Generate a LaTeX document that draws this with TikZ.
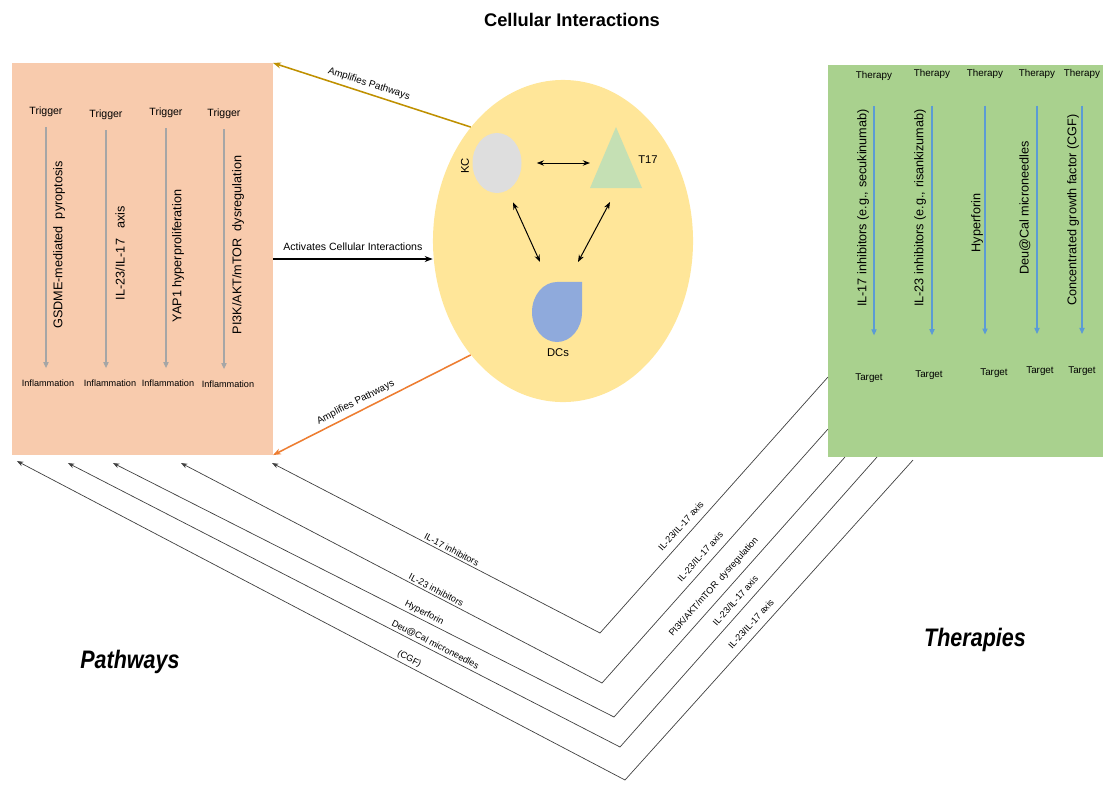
\documentclass[tikz,border=0pt]{standalone}
\usepackage{fontspec}
\setmainfont{Liberation Sans}
\usepackage{tikz}
\usetikzlibrary{arrows.meta,positioning,shapes.geometric,calc}

\definecolor{pathfill}{HTML}{F8CBAD}
\definecolor{therfill}{HTML}{A9D18E}
\definecolor{cellfill}{HTML}{FFE699}
\definecolor{kcfill}{HTML}{DEDEDE}
\definecolor{tfill}{HTML}{C5E0B4}
\definecolor{dcfill}{HTML}{8FAADC}
\definecolor{goldline}{HTML}{BF9000}
\definecolor{orangeline}{HTML}{ED7D31}
\definecolor{greyarrow}{HTML}{A6A6A6}
\definecolor{bluearrow}{HTML}{5B9BD5}
\definecolor{linkgrey}{HTML}{404040}

\begin{document}
\begin{tikzpicture}[
  x=0.025cm, y=-0.025cm,
  panel/.style={rectangle, inner sep=0pt, outer sep=0pt},
  trig/.style={font=\fontsize{7.5}{8}\selectfont, inner sep=1pt},
  infl/.style={font=\fontsize{6.5}{7}\selectfont, inner sep=1pt},
  thlabel/.style={font=\fontsize{7}{8}\selectfont, inner sep=1pt},
  vtext/.style={font=\fontsize{9}{10}\selectfont, rotate=90, inner sep=0pt},
  celllabel/.style={font=\fontsize{8}{9}\selectfont, inner sep=1pt},
  bigtitle/.style={font=\bfseries\itshape\fontsize{18}{18}\selectfont, xscale=0.85},
  downarrow/.style={-{Triangle[length=1.5mm, width=1.3mm]}, line width=0.8pt},
  dblarrow/.style={{Stealth[length=1.8mm]}-{Stealth[length=1.8mm]}, line width=0.7pt},
  amp/.style={-{Stealth[length=2mm]}, line width=1.1pt},
  amplabel/.style={font=\fontsize{7}{8}\selectfont, sloped, above, inner sep=3pt},
  link/.style={-{Stealth[length=1.6mm]}, draw=linkgrey, line width=0.5pt},
  linklabel/.style={font=\fontsize{6.5}{7}\selectfont, sloped, above, inner sep=1.5pt},
  axislabel/.style={linklabel, inner sep=5pt}
]
  \useasboundingbox (0,0) rectangle (1103,784);

  % title
  \node[font=\bfseries\fontsize{13}{14}\selectfont] (title) at (572,20) {Cellular Interactions};

  % pathways panel
  \node[panel, fill=pathfill, minimum width=6.525cm, minimum height=9.8cm] (pathbox) at (142.5,259) {};
  \node[trig] (trig1) at (46,112) {Trigger};
  \node[trig] (trig2) at (106,115) {Trigger};
  \node[trig] (trig3) at (166,113) {Trigger};
  \node[trig] (trig4) at (224,114) {Trigger};
  \node[infl] (infl1) at (48,383) {Inflammation};
  \node[infl] (infl2) at (110,383) {Inflammation};
  \node[infl] (infl3) at (168,383) {Inflammation};
  \node[infl] (infl4) at (228,384) {Inflammation};
  \draw[downarrow, draw=greyarrow, shorten <=6pt, shorten >=7pt] (trig1.south) -- (trig1.south |- infl1.north);
  \draw[downarrow, draw=greyarrow, shorten <=6pt, shorten >=7pt] (trig2.south) -- (trig2.south |- infl2.north);
  \draw[downarrow, draw=greyarrow, shorten <=6pt, shorten >=7pt] (trig3.south) -- (trig3.south |- infl3.north);
  \draw[downarrow, draw=greyarrow, shorten <=6pt, shorten >=7pt] (trig4.south) -- (trig4.south |- infl4.north);
  \node[vtext] (gsdme) at (59,245) {GSDME-mediated\ \ pyroptosis};
  \node[vtext] (ilaxis) at (120,253) {IL-23/IL-17\ \ \ axis};
  \node[vtext] (yap) at (178,256) {YAP1 hyperproliferation};
  \node[vtext] (pik) at (238,245) {PI3K/AKT/mTOR\ \ dysregulation};

  % therapies panel
  \node[panel, fill=therfill, minimum width=6.875cm, minimum height=9.8cm] (thbox) at (965.5,261) {};
  \node[thlabel] (th1) at (874,76) {Therapy};
  \node[thlabel] (th2) at (932,74) {Therapy};
  \node[thlabel] (th3) at (985,74) {Therapy};
  \node[thlabel] (th4) at (1037,74) {Therapy};
  \node[thlabel] (th5) at (1082,74) {Therapy};
  \node[thlabel] (tg1) at (869,378) {Target};
  \node[thlabel] (tg2) at (929,375) {Target};
  \node[thlabel] (tg3) at (994,373) {Target};
  \node[thlabel] (tg4) at (1040,371) {Target};
  \node[thlabel] (tg5) at (1082,371) {Target};
  \draw[downarrow, draw=bluearrow, shorten <=17pt, shorten >=26pt] (th1.south) -- (th1.south |- tg1.north);
  \draw[downarrow, draw=bluearrow, shorten <=18pt, shorten >=24pt] (th2.south) -- (th2.south |- tg2.north);
  \draw[downarrow, draw=bluearrow, shorten <=18pt, shorten >=23pt] (th3.south) -- (th3.south |- tg3.north);
  \draw[downarrow, draw=bluearrow, shorten <=18pt, shorten >=22pt] (th4.south) -- (th4.south |- tg4.north);
  \draw[downarrow, draw=bluearrow, shorten <=18pt, shorten >=22pt] (th5.south) -- (th5.south |- tg5.north);
  \node[vtext] (il17) at (863,208) {IL-17 inhibitors (e.g., secukinumab)};
  \node[vtext] (il23) at (920,208) {IL-23 inhibitors (e.g., risankizumab)};
  \node[vtext] (hyper) at (977,223) {Hyperforin};
  \node[vtext] (deu) at (1025,208) {Deu@Cal microneedles};
  \node[vtext] (cgf) at (1073,210) {Concentrated growth factor (CGF)};

  % cell interactions
  \node[ellipse, fill=cellfill, inner sep=0pt, minimum width=6.5cm, minimum height=8.05cm] (cell) at (563,241) {};
  \node[ellipse, fill=kcfill, inner sep=0pt, minimum width=1.225cm, minimum height=1.5cm] (kc) at (497,163) {};
  \node[celllabel, rotate=90] (kclabel) at (465,166) {KC};
  \node[panel, minimum width=1.3cm, minimum height=1.525cm] (t17) at (616,157.5) {};
  \fill[tfill] (t17.north) -- (t17.south east) -- (t17.south west) -- cycle;
  \node[celllabel] (t17label) at (648,160) {T17};
  \node[panel, minimum width=1.25cm, minimum height=1.5cm] (dcs) at (557,312) {};
  \fill[dcfill] (dcs.north) -- (dcs.north east) -- (dcs.east)
    arc[start angle=0, end angle=-270, x radius=0.625cm, y radius=0.75cm] -- cycle;
  \node[celllabel] (dclabel) at (558,353) {DCs};
  \draw[dblarrow] ([xshift=0.375cm]kc.east) -- (kc.east -| t17.west);
  \draw[dblarrow] ([shift={(0.4cm,-0.225cm)}]kc.south) -- ([shift={(0.2cm,0.5cm)}]dcs.north west);
  \draw[dblarrow] ([shift={(-0.15cm,-0.35cm)}]t17.south) -- ([shift={(-0.1cm,0.5cm)}]dcs.north east);

  % links between panels
  \draw[amp, draw=goldline] (cell.129) -- node[amplabel, pos=0.53] {Amplifies Pathways} (pathbox.north east);
  \draw[amp, draw=orangeline] (cell.231) -- node[amplabel, pos=0.56] {Amplifies Pathways} (pathbox.south east);
  \draw[amp, line width=1.4pt] (pathbox.east) -- node[above, font=\fontsize{7.5}{8}\selectfont, inner sep=5pt] {Activates Cellular Interactions} (pathbox.east -| cell.west);

  % therapy to pathway links
  \coordinate (v1) at (600,633);
  \coordinate (v2) at (602,683);
  \coordinate (v3) at (614,717);
  \coordinate (v4) at (620,747);
  \coordinate (v5) at (625,780);
  \draw[link] ([yshift=2cm]thbox.south west) -- node[axislabel, pos=0.61] {IL-23/IL-17 axis} (v1)
    -- node[linklabel, pos=0.46] {IL-17 inhibitors} ([shift={(-0.025cm,-0.2cm)}]pathbox.south east);
  \draw[link] ([yshift=0.7cm]thbox.south west) -- node[axislabel, pos=0.53] {IL-23/IL-17 axis} (v2)
    -- node[linklabel, pos=0.40] {IL-23 inhibitors} ([shift={(4.225cm,-0.2cm)}]pathbox.south west);
  \draw[link] ([xshift=0.425cm]thbox.south west) -- node[axislabel, pos=0.53] {PI3K/AKT/mTOR\ \ dysregulation} (v3)
    -- node[linklabel, pos=0.385] {Hyperforin} ([shift={(2.525cm,-0.2cm)}]pathbox.south west);
  \draw[link] ([xshift=1.225cm]thbox.south west) -- node[axislabel, pos=0.52] {IL-23/IL-17 axis} (v4)
    -- node[linklabel, pos=0.34] {Deu@Cal microneedles} ([shift={(1.4cm,-0.2cm)}]pathbox.south west);
  \draw[link] ([shift={(2.125cm,-0.075cm)}]thbox.south west) -- node[axislabel, pos=0.535] {IL-23/IL-17 axis} (v5)
    -- node[linklabel, pos=0.36] {(CGF)} ([shift={(0.125cm,-0.15cm)}]pathbox.south west);

  % side titles
  \node[bigtitle] (pathways) at (130,662) {Pathways};
  \node[bigtitle] (therapies) at (975,640) {Therapies};
\end{tikzpicture}
\end{document}
